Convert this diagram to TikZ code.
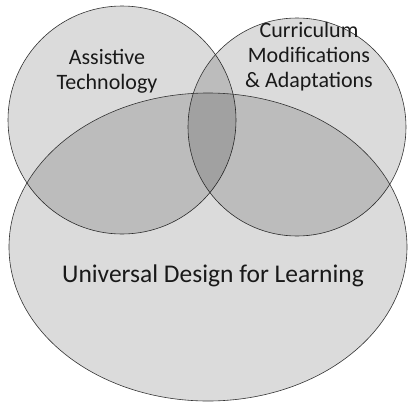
\documentclass[tikz,border=0pt]{standalone}
\usepackage{fontspec}
\setmainfont{Carlito}
\usetikzlibrary{positioning}

\tikzset{
  vset/.style={draw=black!80,line width=0.6pt,fill=black,fill opacity=0.14},
  lbl/.style={align=center,text=black!90,font=\fontsize{22}{25}\selectfont},
  biglbl/.style={text=black!90,font=\fontsize{25.5}{30}\selectfont}
}

\begin{document}
\begin{tikzpicture}[line cap=round,line join=round,x=1pt,y=-1pt]
\useasboundingbox (0,0) rectangle (408,405);

% the three sets
\draw[vset] (122,120) circle (114);
\draw[vset] (297,127) circle (109);
\draw[vset] (208,247) ellipse (199 and 154);

% labels
\node[lbl] (at) at (107,71) {Assistive\\Technology};
\node[lbl] (cm) at (309,57) {Curriculum\\Modifications\\\& Adaptations};
\node[biglbl] (udl) at (213,276) {Universal Design for Learning};
\end{tikzpicture}
\end{document}
